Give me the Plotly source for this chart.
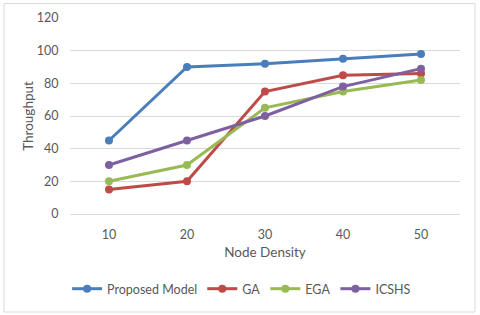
import plotly.graph_objects as go

categories = ["10", "20", "30", "40", "50"]
proposed = [45, 90, 92, 95, 98]
ga = [15, 20, 75, 85, 86]
ega = [20, 30, 65, 75, 82]
icshs = [30, 45, 60, 78, 89]
y_ticks = [0, 20, 40, 60, 80, 100, 120]

series = [
    ("Proposed Model", proposed, "#4A7EBB"),
    ("GA", ga, "#BE4B48"),
    ("EGA", ega, "#98B954"),
    ("ICSHS", icshs, "#7D60A0"),
]

fig = go.Figure()
for name, vals, col in series:
    fig.add_trace(go.Scatter(
        x=categories, y=vals, name=name, mode="lines+markers",
        line=dict(color=col, width=3), marker=dict(color=col, size=8),
    ))

font_fam = "Lato, Open Sans, Liberation Sans, sans-serif"
fig.update_layout(
    width=480, height=315,
    margin=dict(l=70, r=20, t=18, b=101, autoexpand=False),
    paper_bgcolor="white", plot_bgcolor="white",
    font=dict(family=font_fam, size=12.5, color="#595959"),
    showlegend=True,
    legend=dict(orientation="h", x=0.44, xanchor="center", y=-0.383, yanchor="middle",
                font=dict(size=12.5, color="#595959"), itemwidth=30, tracegroupgap=0),
    xaxis=dict(type="category", range=[-0.5, 4.5], showgrid=False, showline=False, automargin=False,
               ticks="outside", ticklen=9, tickcolor="rgba(0,0,0,0)",
               title=dict(text="Node Density", standoff=6, font=dict(size=13.5, color="#595959"))),
    yaxis=dict(range=[0, 120], tickvals=y_ticks, showgrid=True, gridcolor="#D9D9D9", gridwidth=1,
               automargin=False,
               zeroline=True, zerolinecolor="#D9D9D9", zerolinewidth=1, showline=False,
               ticks="outside", ticklen=8, tickcolor="rgba(0,0,0,0)",
               title=dict(text="Throughput", standoff=0, font=dict(size=13.5, color="#595959"))),
)

fig.add_shape(type="rect", xref="paper", yref="paper",
              x0=(4 - 70) / 390, x1=(475 - 70) / 390,
              y0=(214 - 312) / 196, y1=(214 - 3.5) / 196,
              line=dict(color="#D9D9D9", width=1), fillcolor="rgba(0,0,0,0)", layer="below")

fig.write_html("out.html", config={"displayModeBar": False},
               post_script="document.body.style.margin='0';")
